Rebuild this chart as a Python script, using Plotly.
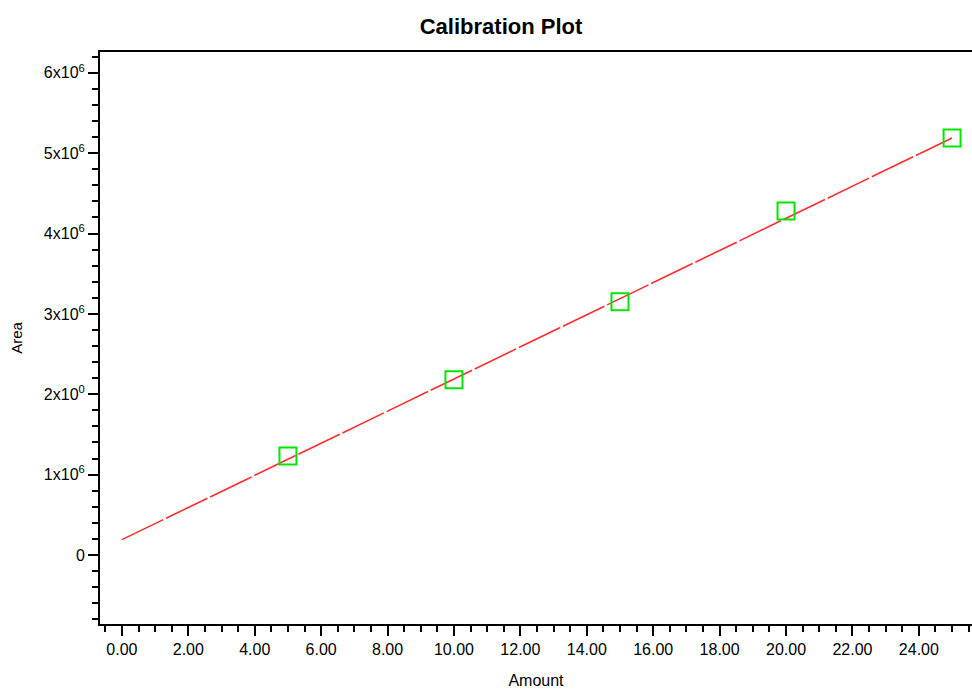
import plotly.graph_objects as go

# Data
amount = [5, 10, 15, 20, 25]
area = [1.23e6, 2.18e6, 3.15e6, 4.28e6, 5.19e6]
fit_amount = [0, 25]
fit_area = [0.19e6, 5.19e6]

y_tickvals = [0, 1e6, 2e6, 3e6, 4e6, 5e6, 6e6]
y_ticktext = ["0", "1x10<sup>6</sup>", "2x10<sup>0</sup>", "3x10<sup>6</sup>",
              "4x10<sup>6</sup>", "5x10<sup>6</sup>", "6x10<sup>6</sup>"]
x_tickvals = [0, 2, 4, 6, 8, 10, 12, 14, 16, 18, 20, 22, 24]
x_ticktext = ["%.2f" % v for v in x_tickvals]

FONT = "Liberation Sans, Arial, sans-serif"

fig = go.Figure()
fig.add_trace(go.Scatter(
    x=fit_amount, y=fit_area, mode="lines",
    line=dict(color="rgb(255,45,45)", width=1.6, dash="46px,3px"),
    showlegend=False, hoverinfo="skip"))
fig.add_trace(go.Scatter(
    x=amount, y=area, mode="markers",
    marker=dict(symbol="square-open", size=17, color="rgb(0,230,0)",
                line=dict(width=2, color="rgb(0,230,0)")),
    showlegend=False))

fig.update_layout(
    width=972, height=691,
    margin=dict(l=100, r=0, t=52, b=67),
    paper_bgcolor="white", plot_bgcolor="white",
    font=dict(family=FONT, color="black", size=16),
    title=dict(text="<b>Calibration Plot</b>", xref="container", yref="container",
               x=501 / 972, y=1 - 26 / 691, xanchor="center", yanchor="middle",
               font=dict(family=FONT, size=22, color="black")),
)
fig.update_xaxes(
    range=[-0.66, 25.6], showgrid=False, zeroline=False, automargin=False,
    showline=True, linecolor="black", linewidth=2, mirror=True,
    ticks="outside", ticklen=10, tickwidth=2, tickcolor="black",
    tickvals=x_tickvals, ticktext=x_ticktext,
    tickfont=dict(size=16),
    minor=dict(dtick=0.5, tick0=0, ticks="outside", ticklen=6, tickwidth=2, tickcolor="black"),
    title=dict(text="Amount", font=dict(size=16), standoff=18),
)
fig.update_yaxes(
    range=[-0.86e6, 6.26e6], showgrid=False, zeroline=False, automargin=False,
    showline=True, linecolor="black", linewidth=2, mirror=False,
    ticks="outside", ticklen=10, tickwidth=2, tickcolor="black",
    tickvals=y_tickvals, ticktext=y_ticktext,
    tickfont=dict(size=16),
    minor=dict(dtick=0.2e6, tick0=0, ticks="outside", ticklen=6, tickwidth=2, tickcolor="black"),
    title=dict(text="Area", font=dict(size=15), standoff=18),
)

fig.write_html("out.html", config={"displayModeBar": False},
               post_script="document.body.style.margin='0px';")
